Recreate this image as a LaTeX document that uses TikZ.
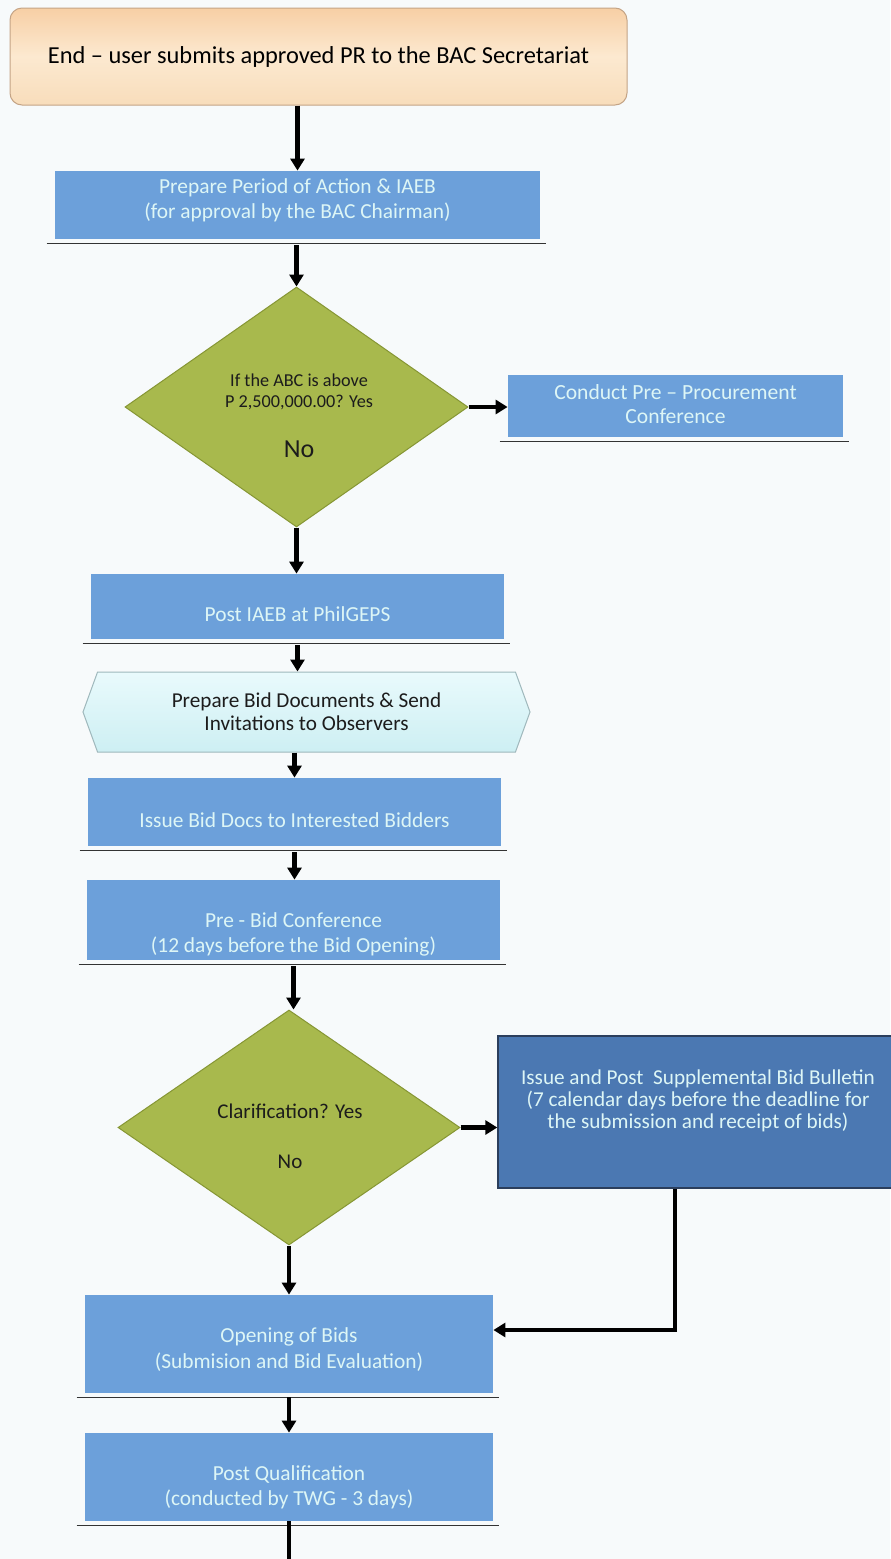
\documentclass[tikz,border=0pt]{standalone}
\usepackage{fontspec}
\setmainfont{Carlito}
\usetikzlibrary{shapes.geometric,shapes.symbols,arrows.meta}
\definecolor{pagebg}{HTML}{F7FAFB}
\definecolor{boxblue}{HTML}{6CA0DA}
\definecolor{boxtext}{HTML}{DDF6F6}
\definecolor{darkblue}{HTML}{4B78B2}
\definecolor{darkedge}{HTML}{2B3E5C}
\definecolor{olive}{HTML}{A8B94D}
\definecolor{oliveedge}{HTML}{869634}
\definecolor{peachA}{HTML}{F7CFA5}
\definecolor{peachB}{HTML}{FCE9D0}
\definecolor{peachC}{HTML}{F8DDBB}
\definecolor{peachedge}{HTML}{C4A486}
\definecolor{cyanA}{HTML}{E9FAFC}
\definecolor{cyanB}{HTML}{CDEFF3}
\definecolor{hexedge}{HTML}{9FB8BC}
\definecolor{ink}{HTML}{1C1C1C}
\begin{document}
\begin{tikzpicture}[x=0.5pt,y=-0.5pt,
  bluebox/.style={rectangle, fill=boxblue, inner sep=0pt},
  btext/.style={text=boxtext, align=center, inner sep=0pt,
    font=\fontsize{10.7}{12.5}\selectfont},
  decision/.style={diamond, fill=olive, draw=oliveedge, line width=0.5pt, inner sep=0pt},
  qtext/.style={text=ink, align=center, font=\fontsize{9.1}{10.5}\selectfont},
  arr/.style={draw=black, line width=2.1pt, -{Triangle[width=7pt,length=6pt]}},
  flat/.style={draw=black, line width=2.1pt},
  underline/.style={draw=black!80, line width=0.9pt}
]
\useasboundingbox[fill=pagebg] (0,0) rectangle (890,1559);

% start box
\node[rectangle, rounded corners=6pt, draw=peachedge, line width=0.5pt,
  top color=peachA, bottom color=peachC, middle color=peachB,
  minimum width=308.5pt, minimum height=48.5pt, inner sep=0pt,
  text=black, font=\fontsize{12.2}{14}\selectfont] (start) at (318.5,56.5)
  {End -- user submits approved PR to the BAC Secretariat};

% process boxes and their captions
\node[bluebox, minimum width=242.5pt, minimum height=34pt] (b1) at (297.5,205) {};
\node[btext] (b1t) at (297.5,200)
  {Prepare Period of Action \& IAEB\\(for approval by the BAC Chairman)};

\node[decision, minimum width=171.5pt, minimum height=120pt] (d1) at (296.5,407) {};
\node[qtext] (d1q) at (299,392) {If the ABC is above\\P 2,500,000.00? Yes};
\node[text=ink, font=\fontsize{13}{14}\selectfont] (d1n) at (299,449) {No};

\node[bluebox, minimum width=167.5pt, minimum height=31pt] (b2) at (675.5,406) {};
\node[btext, font=\fontsize{10.8}{11.8}\selectfont] (b2t) at (675.5,404)
  {Conduct Pre -- Procurement\\Conference};

\node[bluebox, minimum width=206.5pt, minimum height=32.5pt] (b3) at (297.5,606.5) {};
\node[btext] (b3t) at (297.5,614) {Post IAEB at PhilGEPS};

\node[signal, signal to=west and east, signal pointer angle=140,
  top color=cyanA, bottom color=cyanB, draw=hexedge, line width=0.5pt,
  minimum width=223.5pt, minimum height=40pt, inner sep=0pt, align=center,
  text=ink, font=\fontsize{10.6}{11.5}\selectfont] (hex) at (306.5,712)
  {Prepare Bid Documents \& Send\\Invitations to Observers};

\node[bluebox, minimum width=206.5pt, minimum height=34pt] (b4) at (294.5,812) {};
\node[btext] (b4t) at (294.5,820) {Issue Bid Docs to Interested Bidders};

\node[bluebox, minimum width=206.5pt, minimum height=40pt] (b5) at (293.5,920) {};
\node[btext] (b5t) at (293.5,934)
  {Pre - Bid Conference\\(12 days before the Bid Opening)};

\node[decision, minimum width=171pt, minimum height=117.5pt] (d2) at (289,1127.5) {};
\node[qtext, font=\fontsize{10.5}{12}\selectfont] (d2q) at (290,1111) {Clarification? Yes};
\node[qtext, font=\fontsize{10.5}{12}\selectfont] (d2n) at (290,1162) {No};

\node[rectangle, fill=darkblue, draw=darkedge, line width=0.7pt,
  minimum width=198pt, minimum height=76pt, inner sep=0pt] (b6) at (696,1112) {};
\node[text=boxtext, align=center, font=\fontsize{10.6}{11}\selectfont] (b6t) at (698,1101)
  {Issue and Post\ \ Supplemental Bid Bulletin\\(7 calendar days before the deadline for\\the submission and receipt of bids)};

\node[bluebox, minimum width=204pt, minimum height=49pt] (b7) at (289,1344) {};
\node[btext, font=\fontsize{10.7}{13}\selectfont] (b7t) at (289,1350)
  {Opening of Bids\\(Submision and Bid Evaluation)};

\node[bluebox, minimum width=204pt, minimum height=44pt] (b8) at (289,1477) {};
\node[btext] (b8t) at (289,1487)
  {Post Qualification\\(conducted by TWG - 3 days)};

% thin rules under the blue boxes
\foreach \n in {b1,b2,b3,b4,b5,b7,b8}
  \draw[underline] ([xshift=-4pt,yshift=-2pt]\n.south west) -- ([xshift=3pt,yshift=-2pt]\n.south east);

% connectors
\draw[arr] (b1.north |- start.south) -- (b1.north);
\draw[arr] ([yshift=-3pt]d1.north |- b1.south) -- (d1.north);
\draw[arr] (d1.east) -- (b2.west |- d1.east);
\draw[arr] (d1.south) -- (d1.south |- b3.north);
\draw[arr] ([yshift=-3pt]b3.south) -- (b3.south |- hex.north);
\draw[arr] ([xshift=-6pt]hex.south) -- ([xshift=-6pt]hex.south |- b4.north);
\draw[arr] ([yshift=-3pt]b4.south) -- (b4.south |- b5.north);
\draw[arr] ([yshift=-3pt]b5.south) -- (b5.south |- d2.north);
\draw[arr] (d2.east) -- (b6.west |- d2.east);
\draw[arr] (d2.south) -- (d2.south |- b7.north);
\coordinate (bend) at (675,1330);
\draw[flat] (bend |- b6.south) -- (bend);
\draw[arr] ([xshift=1.05pt]bend) -- (bend -| b7.east);
\draw[arr] ([yshift=-2pt]b7.south) -- (b7.south |- b8.north);
\coordinate (next) at (289,1562);
\draw[flat] (b8.south) -- (next);
\end{tikzpicture}
\end{document}
